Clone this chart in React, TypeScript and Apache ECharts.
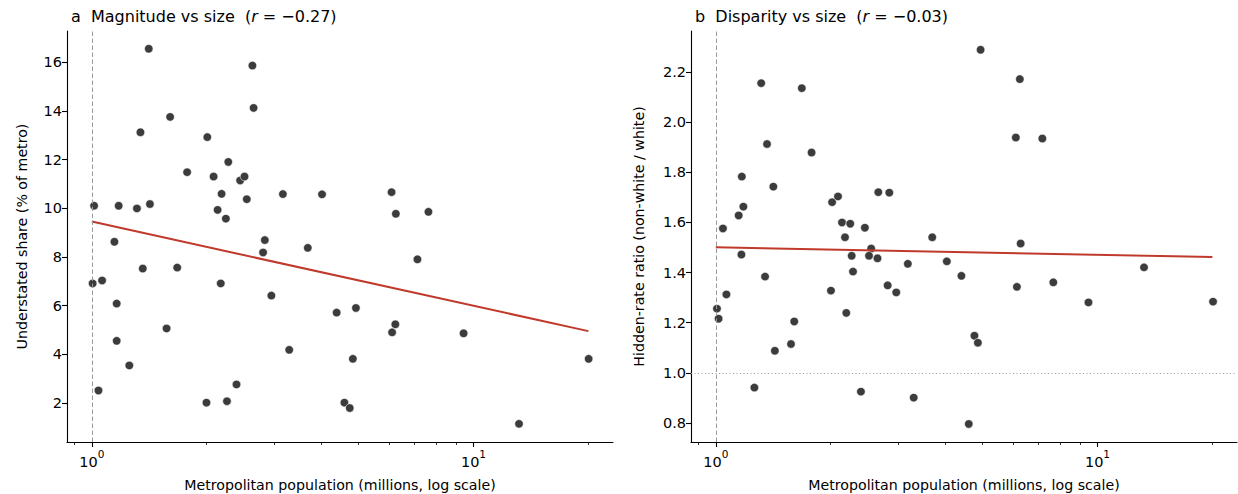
import React, { useEffect, useRef } from "react";
import * as echarts from "echarts";

// Panel a: metro population (millions) vs understated share (% of metro)
const popA = [
  1.014, 1.176, 1.313, 1.42, 1.341, 1.41, 1.604, 1.777, 2.007, 2.085, 2.278, 2.447, 2.512,
  2.188, 2.136, 2.245, 2.547, 2.635, 2.654, 3.167, 4.01, 6.1, 6.26, 7.62, 2.84, 1.146,
  3.68, 2.81, 7.13, 1.36, 1.674, 1.005, 1.064, 2.177, 1.162, 2.954, 4.38, 4.92, 1.57,
  6.24, 6.12, 9.42, 1.162, 3.29, 1.254, 4.83, 20.03, 1.041, 2.394, 1.997, 2.26, 4.59,
  4.74, 13.16,
];
const shareA = [
  10.1, 10.1, 9.99, 10.17, 13.12, 16.55, 13.75, 11.48, 12.92, 11.3, 11.9, 11.14, 11.3,
  10.59, 9.93, 9.57, 10.37, 15.86, 14.12, 10.58, 10.57, 10.66, 9.77, 9.85, 8.69, 8.62,
  8.37, 8.18, 7.9, 7.52, 7.56, 6.91, 7.03, 6.91, 6.08, 6.41, 5.71, 5.9, 5.06,
  5.23, 4.9, 4.86, 4.55, 4.18, 3.54, 3.81, 3.81, 2.51, 2.76, 2.01, 2.07, 2.01,
  1.79, 1.14,
];

// Panel b: metro population (millions) vs hidden-rate ratio
const popB = [
  4.94, 6.26, 1.315, 1.68, 6.11, 7.17, 1.362, 1.782, 1.17, 1.415, 1.181, 1.148, 1.044,
  2.017, 2.09, 2.665, 2.848, 2.141, 2.25, 2.458, 2.18, 3.69, 6.29, 2.553, 1.167, 2.27,
  2.52, 2.652, 3.185, 4.03, 13.24, 2.288, 1.346, 4.4, 7.66, 6.15, 2.82, 2.97, 2.003,
  1.066, 9.47, 20.08, 1.007, 1.017, 2.197, 1.605, 1.574, 1.428, 4.76, 4.86, 1.262,
  2.4, 3.3, 4.6,
];
const ratioB = [
  2.289, 2.172, 2.156, 2.136, 1.939, 1.935, 1.913, 1.879, 1.783, 1.743, 1.663, 1.628, 1.576,
  1.681, 1.704, 1.721, 1.719, 1.6, 1.595, 1.579, 1.541, 1.541, 1.516, 1.496, 1.472, 1.467,
  1.467, 1.457, 1.435, 1.445, 1.421, 1.404, 1.384, 1.387, 1.361, 1.343, 1.349, 1.321, 1.328,
  1.313, 1.281, 1.284, 1.256, 1.216, 1.239, 1.205, 1.115, 1.088, 1.148, 1.12, 0.941,
  0.925, 0.901, 0.796,
];

// Fitted lines (endpoints)
const fitAx = [1, 20];
const fitAy = [9.45, 4.95];
const fitBx = [1, 20];
const fitBy = [1.501, 1.462];

const xMajorTicks = [1, 10];
const xMinorTicks = [0.9, 2, 3, 4, 5, 6, 7, 8, 9, 20];
const yTicksA = [2, 4, 6, 8, 10, 12, 14, 16];
const yTicksB = [0.8, 1.0, 1.2, 1.4, 1.6, 1.8, 2.0, 2.2];

const titleA = "{n|a  Magnitude vs size  (}{i|r}{n| = −0.27)}";
const titleB = "{n|b  Disparity vs size  (}{i|r}{n| = −0.03)}";
const xName = "Metropolitan population (millions, log scale)";
const yNameA = "Understated share (% of metro)";
const yNameB = "Hidden-rate ratio (non-white / white)";

const FONT = "DejaVu Sans";
const POINT = "#3c3c3c";
const RED = "#c0392b";
const TICK_FS = 14.5;
const NAME_FS = 14.2;
const TITLE_FS = 16;

export default function App() {
  const ref = useRef<HTMLDivElement>(null);
  useEffect(() => {
    if (!ref.current) return;
    const chart = echarts.init(ref.current, undefined, { renderer: "svg" });

    const xMin = 0.861;
    const xMax = 23.2;
    const grids = [
      { left: 67, top: 31, width: 546, height: 411, containLabel: false, outerBoundsMode: "none" },
      { left: 691, top: 31, width: 546, height: 411, containLabel: false, outerBoundsMode: "none" },
    ];

    const mkMainX = (gi: number) => ({
      type: "log",
      logBase: 10,
      gridIndex: gi,
      min: xMin,
      max: xMax,
      name: xName,
      nameLocation: "middle",
      nameGap: 36,
      nameTextStyle: { fontFamily: FONT, fontSize: NAME_FS, color: "#000" },
      axisLine: { show: true, lineStyle: { color: "#000", width: 1.1 } },
      axisTick: { show: true, length: 5, lineStyle: { color: "#000", width: 1.1 }, customValues: xMajorTicks },
      minorTick: { show: false },
      splitLine: { show: false },
      axisLabel: {
        customValues: xMajorTicks,
        margin: 6,
        formatter: (v: number) => `{b|10}{s|${Math.round(Math.log10(v))}}`,
        rich: {
          b: { fontFamily: FONT, fontSize: TICK_FS, color: "#000", verticalAlign: "bottom", lineHeight: 21 },
          s: { fontFamily: FONT, fontSize: 10.5, color: "#000", verticalAlign: "top", lineHeight: 12 },
        },
      },
    });
    const mkMinorX = (gi: number) => ({
      type: "log",
      logBase: 10,
      gridIndex: gi,
      min: xMin,
      max: xMax,
      position: "bottom",
      axisLine: { show: false },
      axisTick: { show: true, length: 3, lineStyle: { color: "#000", width: 0.8 }, customValues: xMinorTicks },
      axisLabel: { show: false },
      splitLine: { show: false },
    });
    const mkY = (gi: number, min: number, max: number, ticks: number[], name: string, dec: number, gap: number) => ({
      type: "value",
      gridIndex: gi,
      min,
      max,
      name,
      nameLocation: "middle",
      nameGap: gap,
      nameTextStyle: { fontFamily: FONT, fontSize: NAME_FS, color: "#000" },
      axisLine: { show: true, lineStyle: { color: "#000", width: 1.1 } },
      axisTick: { show: true, length: 5, lineStyle: { color: "#000", width: 1.1 }, customValues: ticks },
      splitLine: { show: false },
      axisLabel: {
        customValues: ticks,
        margin: 5,
        fontFamily: FONT,
        fontSize: TICK_FS,
        color: "#000",
        formatter: (v: number) => v.toFixed(dec),
      },
    });

    const pairs = (xs: number[], ys: number[]) => xs.map((x, i) => [x, ys[i]]);
    const titleRich = {
      n: { fontFamily: FONT, fontSize: TITLE_FS, color: "#000", fontWeight: "normal" },
      i: { fontFamily: FONT, fontSize: TITLE_FS, color: "#000", fontWeight: "normal", fontStyle: "italic" },
    };

    chart.setOption({
      animation: false,
      backgroundColor: "#fff",
      title: [
        { text: titleA, left: 66, top: 3, textStyle: { fontWeight: "normal", rich: titleRich } },
        { text: titleB, left: 690, top: 3, textStyle: { fontWeight: "normal", rich: titleRich } },
      ],
      grid: grids,
      xAxis: [mkMainX(0), mkMainX(1), mkMinorX(0), mkMinorX(1)],
      yAxis: [
        mkY(0, 0.394, 17.28, yTicksA, yNameA, 0, 38),
        mkY(1, 0.724, 2.364, yTicksB, yNameB, 1, 45),
      ],
      series: [
        {
          type: "scatter",
          xAxisIndex: 0,
          yAxisIndex: 0,
          data: pairs(popA, shareA),
          symbolSize: 8.5,
          itemStyle: { color: POINT, borderColor: "#fff", borderWidth: 0.6, opacity: 1 },
          z: 3,
          markLine: {
            silent: true,
            symbol: "none",
            label: { show: false },
            lineStyle: { color: "#999", width: 1, type: [4.5, 2.5] },
            data: [{ xAxis: 1 }],
          },
        },
        {
          type: "line",
          xAxisIndex: 0,
          yAxisIndex: 0,
          data: pairs(fitAx, fitAy),
          showSymbol: false,
          symbol: "none",
          lineStyle: { color: RED, width: 2 },
          z: 4,
        },
        {
          type: "scatter",
          xAxisIndex: 1,
          yAxisIndex: 1,
          data: pairs(popB, ratioB),
          symbolSize: 8.5,
          itemStyle: { color: POINT, borderColor: "#fff", borderWidth: 0.6, opacity: 1 },
          z: 3,
          markLine: {
            silent: true,
            symbol: "none",
            label: { show: false },
            data: [
              { xAxis: 1, lineStyle: { color: "#999", width: 1, type: [4.5, 2.5] } },
              { yAxis: 1, lineStyle: { color: "#999", width: 1, type: [1, 2.5] } },
            ],
          },
        },
        {
          type: "line",
          xAxisIndex: 1,
          yAxisIndex: 1,
          data: pairs(fitBx, fitBy),
          showSymbol: false,
          symbol: "none",
          lineStyle: { color: RED, width: 2 },
          z: 4,
        },
      ],
    });
    return () => chart.dispose();
  }, []);

  return (
    <div
      ref={ref}
      style={{ position: "fixed", left: 0, top: 0, width: 1238, height: 494, background: "#fff" }}
    />
  );
}
